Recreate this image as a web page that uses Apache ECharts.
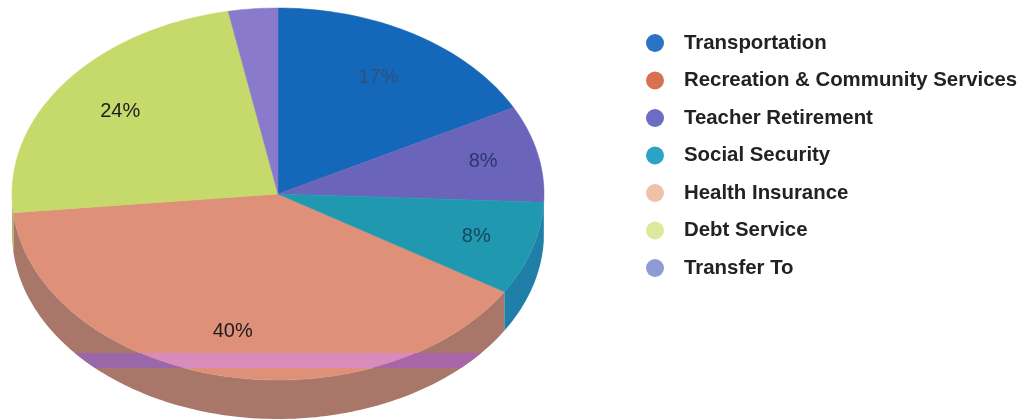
<!DOCTYPE html>
<html>
<head>
<meta charset="utf-8" />
<title>Budget pie</title>
<style>
  html, body { margin: 0; padding: 0; background: #fff; }
  #chart { width: 1023px; height: 420px; }
</style>
<script src="https://cdn.jsdelivr.net/npm/echarts@6/dist/echarts.min.js"></script>
</head>
<body>
<div id="chart"></div>
<script>
const categories = ["Transportation", "Recreation & Community Services", "Teacher Retirement", "Social Security", "Health Insurance", "Debt Service", "Transfer To"];
const shares = [17.3, 39.6, 8.4, 8.1, 0, 23.6, 3];
// slices run clockwise from 12 o'clock in this order, not legend order
const drawOrder = [0, 2, 3, 4, 1, 5, 6];

const topColors = ["#1467b9", "#de9079", "#6a64ba", "#1f98b0", "#eebba5", "#c6d96b", "#8a7acb"];
const sideColors = ["#0f4f90", "#a9776a", "#50498f", "#1f7fa8", "#c09080", "#b3b85c", "#6a5da0"];
const legendColors = ["#2a74c6", "#d8714f", "#6c6cc4", "#2aa3c6", "#efc0aa", "#dde99c", "#8f9bd6"];
const labelColors = ["#2d527e", "#1c1c1c", "#2b3673", "#17475c", "#1c1c1c", "#1c1c1c", "#1c1c1c"];
// how far along the radius each label sits, 0 means no label
const labelRadius = [0.73, 0.76, 0.79, 0.78, 0, 0.74, 0];

const cx = 278, cy = 194, rx = 266, ry = 186, depth = 39;
const total = shares.reduce((a, b) => a + b, 0);

const starts = {};
let run = 0;
drawOrder.forEach((i) => {
  starts[i] = (run / total) * Math.PI * 2;
  run += shares[i];
});

function rimPoint(t, dy) {
  return [cx + rx * Math.sin(t), cy + dy - ry * Math.cos(t)];
}
function arc(a, b, dy) {
  const n = Math.max(2, Math.ceil(Math.abs(b - a) / 0.02));
  const pts = [];
  for (let k = 0; k <= n; k++) pts.push(rimPoint(a + ((b - a) * k) / n, dy));
  return pts;
}

function renderSlice(params) {
  const i = params.seriesIndex;
  const value = shares[i];
  if (!value) return { type: "group", children: [] };
  const a = starts[i];
  const b = a + (value / total) * Math.PI * 2;
  const children = [];

  // side wall, only the front half of the rim shows
  const sa = Math.max(a, Math.PI / 2);
  const sb = Math.min(b, (Math.PI * 3) / 2);
  if (sb > sa) {
    children.push({
      type: "polygon",
      shape: { points: arc(sa, sb, 0).concat(arc(sb, sa, depth)) },
      style: { fill: sideColors[i] },
    });
  }
  children.push({
    type: "polygon",
    shape: { points: [[cx, cy]].concat(arc(a, b, 0)) },
    style: { fill: topColors[i], stroke: topColors[i], lineWidth: 0.5 },
  });
  if (labelRadius[i]) {
    const mid = (a + b) / 2;
    children.push({
      type: "text",
      style: {
        text: Math.round(value) + "%",
        x: cx + rx * labelRadius[i] * Math.sin(mid),
        y: cy - ry * labelRadius[i] * Math.cos(mid),
        fill: labelColors[i],
        font: '20px "Liberation Sans", sans-serif',
        align: "center",
        verticalAlign: "middle",
      },
    });
  }
  return { type: "group", children: children };
}

// the discoloured stripe across the front of the pie
const bandTop = 353, bandBottom = 368;
function halfWidth(y, dy) {
  const u = (y - cy - dy) / ry;
  return rx * Math.sqrt(Math.max(0, 1 - u * u));
}
function renderBand() {
  const rows = [];
  for (let y = bandTop; y <= bandBottom; y += 1) rows.push(y);
  const inner = (sign) => rows.map((y) => [cx + sign * halfWidth(y, 0), y]);
  const outer = (sign) => rows.map((y) => [cx + sign * halfWidth(y, depth), y]);
  return {
    type: "group",
    children: [
      { type: "polygon", shape: { points: inner(-1).concat(inner(1).reverse()) }, style: { fill: "#d98cbc" } },
      { type: "polygon", shape: { points: outer(-1).concat(inner(-1).reverse()) }, style: { fill: "#9a68a8" } },
      { type: "polygon", shape: { points: inner(1).concat(outer(1).reverse()) }, style: { fill: "#a866a8" } },
    ],
  };
}

const series = categories.map((name, i) => ({
  name: name,
  type: "custom",
  coordinateSystem: "none",
  renderItem: renderSlice,
  itemStyle: { color: legendColors[i] },
  silent: true,
  animation: false,
  data: [[shares[i]]],
}));
series.push({
  name: "band",
  type: "custom",
  coordinateSystem: "none",
  renderItem: renderBand,
  silent: true,
  animation: false,
  data: [[0]],
});

const chart = echarts.init(document.getElementById("chart"), null, { renderer: "canvas" });
chart.setOption({
  backgroundColor: "#ffffff",
  animation: false,
  legend: {
    data: categories,
    orient: "vertical",
    left: 641,
    top: 28,
    icon: "circle",
    itemWidth: 20,
    itemHeight: 18,
    itemGap: 17.5,
    selectedMode: false,
    textStyle: {
      color: "#222222",
      fontFamily: "Liberation Sans",
      fontWeight: "bold",
      fontSize: 20.4,
      padding: [0, 0, 0, 14],
    },
  },
  series: series,
});
</script>
</body>
</html>
